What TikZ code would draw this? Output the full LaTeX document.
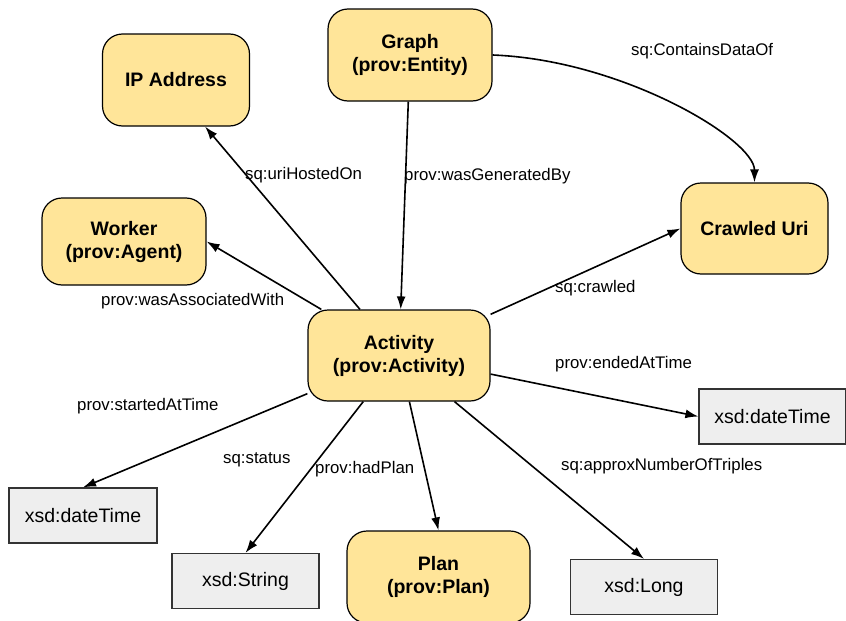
\documentclass[tikz,border=0pt]{standalone}
\usepackage{fontspec}
\setmainfont{Liberation Sans}
\usepackage{tikz}
\usetikzlibrary{arrows.meta}

\definecolor{classfill}{RGB}{255,229,153}
\definecolor{litfill}{RGB}{238,238,238}

\tikzset{
  cls/.style={draw, line width=1.2pt, fill=classfill, rounded corners=20pt,
    align=center, inner sep=0pt, font=\fontsize{19.5}{23}\selectfont\bfseries},
  lit/.style={draw=black!80, line width=1.2pt, fill=litfill,
    minimum width=147pt, minimum height=55pt, font=\fontsize{19.5}{23}\selectfont},
  rel/.style={-{Latex[length=13pt,width=9pt]}, line width=1.6pt},
  lbl/.style={anchor=base west, inner sep=0pt, font=\fontsize{16.8}{20}\selectfont}
}

\begin{document}
\begin{tikzpicture}[x=1pt,y=-1pt]

\clip (0,0) rectangle (846,621);

% classes
\node[cls, minimum width=147pt, minimum height=92pt] (ip) at (176,80) {IP Address};
\node[cls, minimum width=164pt, minimum height=92pt] (graph) at (410,55) {Graph\\(prov:Entity)};
\node[cls, minimum width=164pt, minimum height=87pt] (worker) at (124,241.5) {Worker\\(prov:Agent)};
\node[cls, minimum width=147pt, minimum height=91pt] (uri) at (754.5,228.5) {Crawled Uri};
\node[cls, minimum width=182pt, minimum height=91pt] (act) at (399,355.5) {Activity\\(prov:Activity)};
\node[cls, minimum width=183pt, minimum height=92pt] (plan) at (438.5,577) {Plan\\(prov:Plan)};

% literals
\node[lit, minimum width=148pt] (dtl) at (83,515.5) {xsd:dateTime};
\node[lit] (str) at (245.5,581) {xsd:String};
\node[lit] (dtr) at (772.5,416.5) {xsd:dateTime};
\node[lit] (long) at (644,587) {xsd:Long};

% relations
\draw[rel] (act) -- (ip.-58);
\draw[rel] (act) -- (worker.east);
\draw[rel] (graph) -- (act);
\draw[rel] (graph.east) .. controls +(130,5) and +(0,-43) .. (uri.north);
\draw[rel] (act) -- (uri.west);
\draw[rel] (act) -- (dtr.west);
\draw[rel] (act) -- (long.north);
\draw[rel] (act) -- (plan.north);
\draw[rel] (act) -- (str.north);
\draw[rel] (act) -- (dtl.north);

% labels
\node[lbl] (hosted) at (245,179) {sq:uriHostedOn};
\node[lbl] (generated) at (404,180) {prov:wasGeneratedBy};
\node[lbl] (contains) at (631,55) {sq:ContainsDataOf};
\node[lbl] (crawled) at (555,292) {sq:crawled};
\node[lbl] (assoc) at (101,305) {prov:wasAssociatedWith};
\node[lbl] (started) at (77,410) {prov:startedAtTime};
\node[lbl] (status) at (223,463) {sq:status};
\node[lbl] (hadplan) at (315,473) {prov:hadPlan};
\node[lbl] (ended) at (555,368) {prov:endedAtTime};
\node[lbl] (triples) at (561,470) {sq:approxNumberOfTriples};

\end{tikzpicture}
\end{document}
